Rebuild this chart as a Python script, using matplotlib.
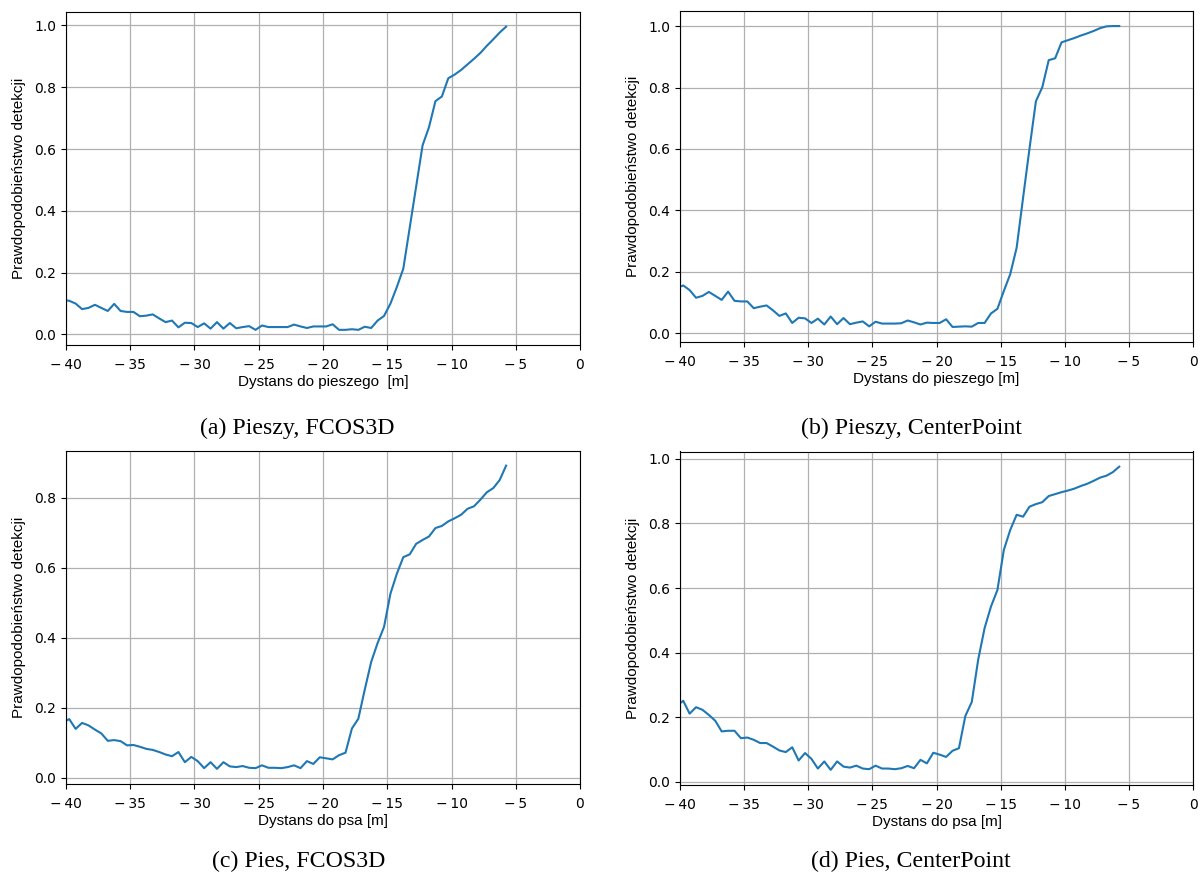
import numpy as np
import matplotlib
matplotlib.use("Agg")
import matplotlib.pyplot as plt

# Distance grid [m], 0.5 m bins
distance = np.arange(-40.25, -5.5, 0.5)

# Detection probability: pedestrian, FCOS3D
ped_fcos3d = [
    0.112, 0.109, 0.100, 0.082, 0.086, 0.096, 0.086, 0.076, 0.099, 0.076,
    0.073, 0.073, 0.059, 0.061, 0.065, 0.052, 0.040, 0.045, 0.023, 0.038,
    0.037, 0.024, 0.036, 0.019, 0.040, 0.019, 0.037, 0.020, 0.024, 0.027,
    0.015, 0.029, 0.024, 0.024, 0.024, 0.024, 0.032, 0.026, 0.021, 0.026,
    0.026, 0.026, 0.033, 0.015, 0.015, 0.017, 0.015, 0.025, 0.021, 0.045,
    0.060, 0.100, 0.154, 0.213, 0.346, 0.479, 0.612, 0.671, 0.755, 0.770,
    0.829, 0.841, 0.856, 0.874, 0.892, 0.911, 0.934, 0.955, 0.977, 0.996,
]

# Detection probability: pedestrian, CenterPoint
ped_centerpoint = [
    0.148, 0.156, 0.141, 0.116, 0.122, 0.135, 0.122, 0.109, 0.136, 0.106,
    0.104, 0.104, 0.082, 0.087, 0.091, 0.075, 0.057, 0.065, 0.034, 0.051,
    0.049, 0.034, 0.048, 0.029, 0.055, 0.030, 0.050, 0.030, 0.035, 0.039,
    0.023, 0.038, 0.032, 0.032, 0.032, 0.033, 0.042, 0.036, 0.029, 0.035,
    0.034, 0.034, 0.046, 0.021, 0.022, 0.023, 0.022, 0.034, 0.034, 0.065,
    0.080, 0.138, 0.193, 0.279, 0.441, 0.601, 0.755, 0.801, 0.889, 0.895,
    0.947, 0.954, 0.961, 0.969, 0.976, 0.984, 0.993, 0.999, 1.000, 1.000,
]

# Detection probability: dog, FCOS3D
dog_fcos3d = [
    0.158, 0.168, 0.140, 0.157, 0.150, 0.138, 0.127, 0.106, 0.108, 0.105,
    0.093, 0.094, 0.089, 0.083, 0.080, 0.074, 0.067, 0.062, 0.074, 0.045,
    0.060, 0.048, 0.028, 0.045, 0.026, 0.045, 0.033, 0.031, 0.034, 0.029,
    0.028, 0.036, 0.029, 0.029, 0.028, 0.031, 0.036, 0.028, 0.048, 0.040,
    0.059, 0.056, 0.053, 0.065, 0.072, 0.141, 0.169, 0.252, 0.331, 0.385,
    0.431, 0.526, 0.583, 0.630, 0.638, 0.668, 0.679, 0.689, 0.713, 0.719,
    0.732, 0.741, 0.751, 0.768, 0.775, 0.794, 0.815, 0.827, 0.850, 0.891,
]

# Detection probability: dog, CenterPoint
dog_centerpoint = [
    0.235, 0.251, 0.211, 0.231, 0.223, 0.207, 0.189, 0.156, 0.158, 0.158,
    0.135, 0.137, 0.130, 0.120, 0.120, 0.109, 0.097, 0.092, 0.107, 0.066,
    0.089, 0.071, 0.041, 0.063, 0.037, 0.063, 0.047, 0.044, 0.050, 0.041,
    0.039, 0.050, 0.041, 0.041, 0.039, 0.042, 0.049, 0.042, 0.068, 0.057,
    0.090, 0.084, 0.077, 0.096, 0.104, 0.204, 0.247, 0.378, 0.476, 0.543,
    0.594, 0.718, 0.780, 0.827, 0.821, 0.852, 0.860, 0.866, 0.885, 0.891,
    0.897, 0.902, 0.908, 0.916, 0.923, 0.932, 0.942, 0.948, 0.959, 0.976,
]

x_ticks = [-40, -35, -30, -25, -20, -15, -10, -5, 0]
x_tick_labels = ["\u2212\u200940", "\u2212\u200935", "\u2212\u200930", "\u2212\u200925",
                 "\u2212\u200920", "\u2212\u200915", "\u2212\u200910", "\u2212\u20095", "0"]

ylabel = "Prawdopodobieństwo detekcji"
xlabels = ["Dystans do pieszego  [m]", "Dystans do pieszego [m]",
           "Dystans do psa [m]", "Dystans do psa [m]"]
captions = ["(a) Pieszy, FCOS3D", "(b) Pieszy, CenterPoint",
            "(c) Pies, FCOS3D", "(d) Pies, CenterPoint"]
series = [ped_fcos3d, ped_centerpoint, dog_fcos3d, dog_centerpoint]

W, H = 1201, 881
fig = plt.figure(figsize=(W / 100, H / 100), dpi=100)

# axes boxes in pixels: left, top, right, bottom
boxes = [(66, 11.5, 580, 345), (680, 11, 1193, 342),
         (66, 450.5, 580, 784), (680, 451.5, 1193, 785)]
caption_pos = [(297, 428), (911, 428), (299, 861), (911, 861)]

label_font = ["Liberation Sans", "DejaVu Sans"]

for box, ys, xl, cap, cp in zip(boxes, series, xlabels, captions, caption_pos):
    l, t, r, b = box
    ax = fig.add_axes([l / W, 1 - b / H, (r - l) / W, (b - t) / H])
    ax.plot(distance, ys, color="#1f77b4", linewidth=1.5)
    ax.set_xlim(-40, 0)
    ax.set_xticks(x_ticks)
    ax.set_xticklabels(x_tick_labels)
    ax.grid(True, color="#b0b0b0", linewidth=0.9)
    ax.tick_params(labelsize=10)
    ax.tick_params(axis="x", pad=6)
    ax.set_xlabel(xl, family=label_font, fontsize=11, labelpad=2)
    ax.set_ylabel(ylabel, family=label_font, fontsize=11, labelpad=6)
    fig.text(cp[0] / W, 1 - cp[1] / H, cap, family="Liberation Serif",
             fontsize=17.2, ha="center", va="center")

fig.savefig("out.png", dpi=100)
